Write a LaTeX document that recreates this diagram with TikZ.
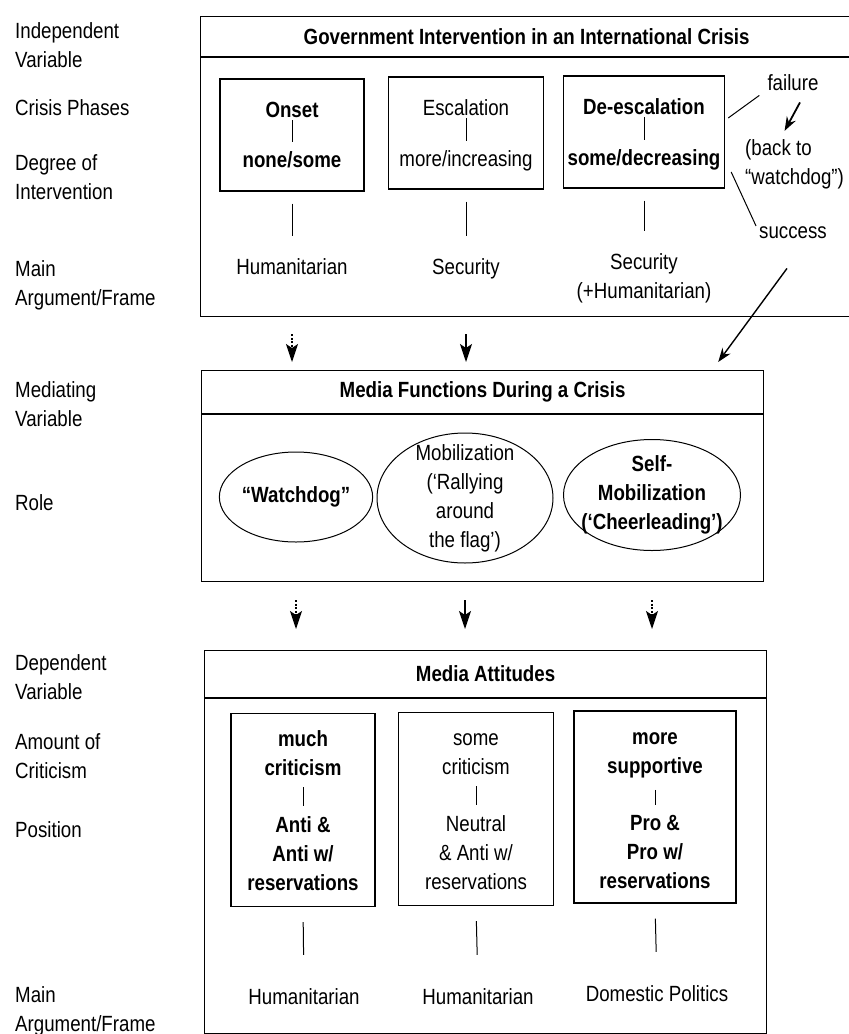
\documentclass[tikz,border=0pt]{standalone}
\usepackage{fontspec}
\setmainfont{Liberation Sans}[FakeStretch=0.85]
\usetikzlibrary{shapes.geometric,arrows.meta,calc}

\begin{document}
\begin{tikzpicture}[x=1pt, y=-1pt,
    txt/.style={font=\fontsize{22}{29}\selectfont, inner sep=0pt, align=center},
    btxt/.style={txt, font=\fontsize{22}{29}\selectfont\bfseries},
    side/.style={txt, align=left, anchor=base west},
    bigbox/.style={draw, line width=1.2pt, inner sep=0pt},
    phasebox/.style={draw, line width=1.4pt, inner sep=0pt},
    rolebox/.style={draw, line width=1pt, ellipse, inner sep=0pt},
    bar/.style={line width=1pt},
    flow/.style={line width=1.2pt, -{Stealth[length=18pt, width=12pt, inset=4pt]}},
    hint/.style={dash pattern=on 2pt off 1.5pt},
    boldarrow/.style={line width=1.8pt, -{Stealth[length=14pt, width=10pt]}}]
    \clip (0,0) rectangle (849,1034);

    % Labels on the left (base = last line)
    \node[side] (indep) at (15,67) {Independent\\Variable};
    \node[side] (phases) at (15,115) {Crisis Phases};
    \node[side] (degree) at (15,199) {Degree of\\Intervention};
    \node[side] (frameA) at (15,305) {Main\\Argument/Frame};
    \node[side] (mediating) at (15,426) {Mediating\\Variable};
    \node[side] (role) at (15,510) {Role};
    \node[side] (dependent) at (15,699) {Dependent\\Variable};
    \node[side] (amount) at (15,778) {Amount of\\Criticism};
    \node[side] (position) at (15,837) {Position};
    \node[side] (frameB) at (15,1031) {Main\\Argument/Frame};

    % Independent variable
    \node[bigbox, btxt, minimum width=652, minimum height=40, anchor=north west] (govhead) at (200,16) {Government Intervention in an International Crisis};
    \node[bigbox, minimum width=652, minimum height=259, anchor=north] (govbox) at (govhead.south) {};

    \node[phasebox, minimum width=144, minimum height=112] (onset) at (292,135) {};
    \node[phasebox, minimum width=155, minimum height=112] (escal) at (466,133) {};
    \node[phasebox, minimum width=161, minimum height=112] (deesc) at (644,132) {};

    \node[btxt, anchor=base] (onsetname) at (292,117) {Onset};
    \node[btxt, anchor=base] (onsetdeg) at (292,167) {none/some};
    \node[txt, anchor=base] (escalname) at (466,115) {Escalation};
    \node[txt, anchor=base] (escaldeg) at (466,166) {more/increasing};
    \node[btxt, anchor=base] (deescname) at (644,114) {De-escalation};
    \node[btxt, anchor=base] (deescdeg) at (644,165) {some/decreasing};

    \draw[bar, shorten <=3pt, shorten >=9pt] (onsetname.south) -- (onsetdeg.north);
    \draw[bar, shorten <=3pt, shorten >=9pt] (escalname.south) -- (escaldeg.north);
    \draw[bar, shorten <=3pt, shorten >=9pt] (deescname.south) -- (deescdeg.north);

    \node[txt, anchor=base] (onsetframe) at (292,274) {Humanitarian};
    \node[txt, anchor=base] (escalframe) at (466,274) {Security};
    \node[txt, anchor=base] (deescframe) at (644,298) {Security\\(+Humanitarian)};

    \draw[bar, shorten <=12pt, shorten >=22pt] (onset.south) -- (onsetframe.north);
    \draw[bar, shorten <=12pt, shorten >=22pt] (escal.south) -- (escalframe.north);
    \draw[bar, shorten <=12pt, shorten >=22pt] (deesc.south) -- (deescframe.north);

    % Failure and success
    \node[txt, anchor=base] (failure) at (793,90) {failure};
    \node[txt, anchor=base west, align=left] (backto) at (745,184) {(back to\\“watchdog”)};
    \node[txt, anchor=base] (success) at (793,238) {success};

    \draw[bar] ([xshift=3pt, yshift=14pt]deesc.east) -- ([xshift=-8pt, yshift=-5pt]failure.south west);
    \draw[boldarrow] ([xshift=7pt, yshift=-12pt]failure.south) -- ([xshift=-10pt, yshift=8pt]backto.north);
    \draw[bar] ([xshift=6pt, yshift=-40pt]deesc.east) -- ([xshift=-3pt]success.north west);

    % Mediating variable
    \node[bigbox, btxt, minimum width=562, minimum height=43, anchor=north west] (media) at (201,370) {Media Functions During a Crisis};
    \node[bigbox, minimum width=562, minimum height=167, anchor=north] (mediabody) at (media.south) {};

    \node[rolebox, btxt, minimum width=138, minimum height=90] (watchdog) at (296,497) {“Watchdog”};
    \node[rolebox, minimum width=176, minimum height=130] (mobil) at (465,498) {};
    \node[txt] (mobiltext) at (mobil) {Mobilization\\(‘Rallying\\around\\the flag’)};
    \node[rolebox, minimum width=177, minimum height=111] (selfmob) at (652,495) {};
    \node[btxt] (selfmobtext) at (selfmob) {Self-\\Mobilization\\(‘Cheerleading’)};

    \draw[boldarrow, line width=1.4pt] ([xshift=-6pt, yshift=-30pt]success.south) -- ([xshift=-46pt, yshift=8pt]media.north east);
    \draw[flow, hint] ($(govbox.south -| onset)+(0,17)$) -- ($(media.north -| onset)-(0,8)$);
    \draw[flow] ($(govbox.south -| escal)+(0,17)$) -- ($(media.north -| escal)-(0,8)$);

    % Dependent variable
    \node[bigbox, btxt, minimum width=562, minimum height=47, anchor=north west] (attitudes) at (204,650) {Media Attitudes};
    \node[bigbox, minimum width=562, minimum height=335, anchor=north] (attbody) at (attitudes.south) {};

    \draw[flow, hint] ($(mediabody.south -| watchdog)+(0,18)$) -- ($(attitudes.north -| watchdog)-(0,21)$);
    \draw[flow] ($(mediabody.south -| mobil)+(0,18)$) -- ($(attitudes.north -| mobil)-(0,21)$);
    \draw[flow, hint] ($(mediabody.south -| selfmob)+(0,18)$) -- ($(attitudes.north -| selfmob)-(0,21)$);

    \node[phasebox, minimum width=144, minimum height=193] (much) at (303,810) {};
    \node[phasebox, minimum width=155, minimum height=193] (some) at (476,809) {};
    \node[phasebox, minimum width=162, minimum height=192] (more) at (655,807) {};

    \node[btxt, anchor=base] (muchamount) at (303,775) {much\\criticism};
    \node[btxt, anchor=base] (muchpos) at (303,890) {Anti \&\\Anti w/\\reservations};
    \node[txt, anchor=base] (someamount) at (476,774) {some\\criticism};
    \node[txt, anchor=base] (somepos) at (476,889) {Neutral\\\& Anti w/\\reservations};
    \node[btxt, anchor=base] (moreamount) at (655,773) {more\\supportive};
    \node[btxt, anchor=base] (morepos) at (655,888) {Pro \&\\Pro w/\\reservations};

    \draw[bar, shorten <=12pt, shorten >=10pt] (muchamount.south) -- (muchpos.north);
    \draw[bar, shorten <=12pt, shorten >=10pt] (someamount.south) -- (somepos.north);
    \draw[bar, shorten <=12pt, shorten >=10pt] (moreamount.south) -- (morepos.north);

    \node[txt, anchor=base] (muchframe) at (304,1004) {Humanitarian};
    \node[txt, anchor=base] (someframe) at (478,1004) {Humanitarian};
    \node[txt, anchor=base] (moreframe) at (657,1001) {Domestic Politics};

    \draw[bar, shorten <=15pt, shorten >=33pt] (much.south) -- (muchframe.north);
    \draw[bar, shorten <=15pt, shorten >=33pt] (some.south) -- (someframe.north);
    \draw[bar, shorten <=15pt, shorten >=33pt] (more.south) -- (moreframe.north);
\end{tikzpicture}
\end{document}
